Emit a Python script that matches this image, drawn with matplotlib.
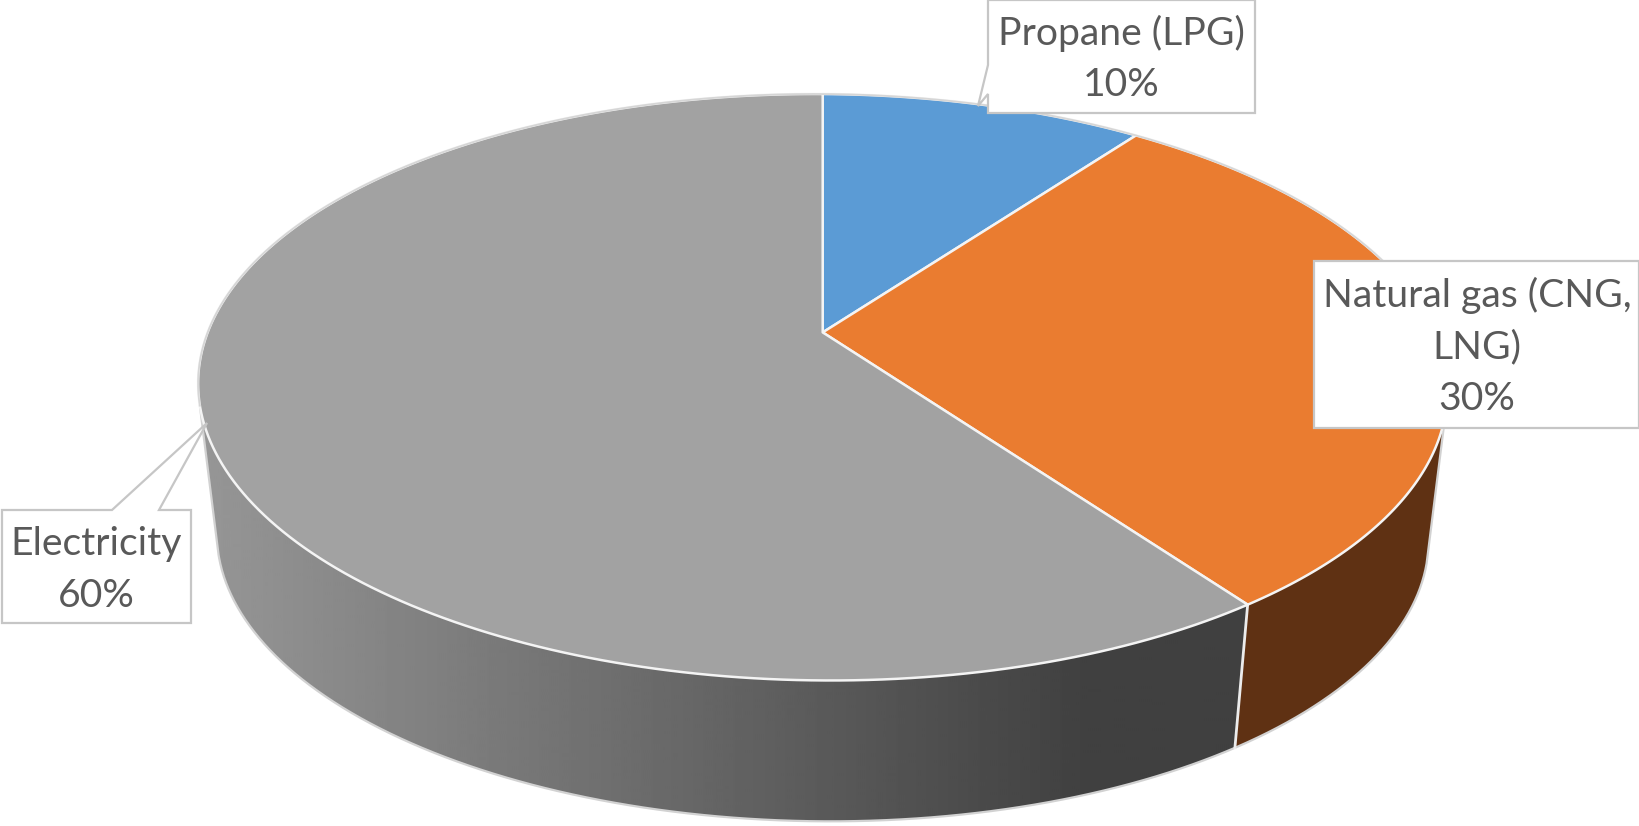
import numpy as np
import matplotlib
matplotlib.use("Agg")
import matplotlib.pyplot as plt
from matplotlib.patches import Polygon

categories = ["Propane (LPG)", "Natural gas (CNG,\nLNG)", "Electricity"]
shares = [10, 30, 60]
top_colors = ["#5B9BD5", "#EA7C30", "#A2A2A2"]
wall_orange = "#5F3113"

W, H = 1639, 826
fig = plt.figure(figsize=(W / 100, H / 100), dpi=100, facecolor="white")
ax = fig.add_axes([0, 0, 1, 1])

# perspective projection of the pie disc on the page
CX, CY, A, B, C, TILT = 822.7, 332.4, 613.6, 220.8, -0.187, 0.006
VPY, DEPTH = 5376.0, 0.97
# angles at which the rim turns from the visible wall to the hidden back
SIL_R, SIL_L = np.deg2rad(105), np.deg2rad(255)


def top(theta):
    u, v = np.sin(theta), -np.cos(theta)
    d = 1 + C * v
    x = CX + A * u / d
    return x, (CY + B * v) / d + TILT * (x - CX)


def bottom(theta):
    x, y = top(theta)
    return CX + (x - CX) * DEPTH, VPY - (VPY - y) * DEPTH


edges = np.cumsum([0] + shares) / sum(shares) * 2 * np.pi


def wall(a, b):
    t = np.linspace(a, b, 300)
    xt, yt = top(t)
    xb, yb = bottom(t)
    return np.column_stack([np.r_[xt, xb[::-1]], np.r_[yt, yb[::-1]]])


# side walls
ax.add_patch(Polygon(wall(SIL_R, edges[2]), closed=True, fc=wall_orange, ec="none", zorder=1))
poly = Polygon(wall(edges[2], SIL_L), closed=True, fc="none", ec="none", zorder=1)
ax.add_patch(poly)
g = np.clip((np.linspace(0, W, 820) - 205) / (1090 - 205), 0, 1)
im = ax.imshow((0x96 + (0x40 - 0x96) * g)[None, :], extent=[0, W, H, 0], cmap="gray",
               vmin=0, vmax=255, aspect="auto", zorder=1)
im.set_clip_path(poly)
ax.set_xlim(0, W)
ax.set_ylim(H, 0)
ax.axis("off")

# silhouette of the wall
t = np.linspace(SIL_R, SIL_L, 500)
xb, yb = bottom(t)
xa, ya = top(SIL_R)
xz, yz = top(SIL_L)
ax.plot(np.r_[xa, xb, xz], np.r_[ya, yb, yz], color="#d2d2d2", lw=1.6, zorder=2)

# divider on the wall
xa, ya = top(edges[2])
xc, yc = bottom(edges[2])
ax.plot([xa, xc], [ya, yc], color="#ececec", lw=2, zorder=3)

# top wedges
for i in range(3):
    t = np.linspace(edges[i], edges[i + 1], 200)
    x, y = top(t)
    pts = np.column_stack([np.r_[CX, x], np.r_[CY, y]])
    ax.add_patch(Polygon(pts, closed=True, fc=top_colors[i], ec="#f4f4f4", lw=1.8, zorder=4,
                         joinstyle="round"))
# grey outline on the far side of the disc
t = np.linspace(SIL_L, 2 * np.pi + SIL_R, 720)
x, y = top(t)
ax.plot(x, y, color="#d6d6d6", lw=1.3, zorder=5)


def callout(path, text, cx, cy):
    ax.add_patch(Polygon(path, closed=True, fc="white", ec="#c6c6c6", lw=1.6, zorder=6,
                         joinstyle="miter"))
    ax.text(cx, cy, text, ha="center", va="center", fontsize=28.2, family="Lato",
            color="#595959", linespacing=1.52, zorder=7)


labels = [f"{c}\n{s}%" for c, s in zip(categories, shares)]
callout([(988, 0), (1255, 0), (1255, 113), (988, 113), (988, 94), (978, 106), (988, 65)],
        labels[0], 1121, 59)
callout([(1314, 261), (1639, 261), (1639, 428), (1314, 428)], labels[1], 1477, 347)
callout([(2, 510), (112, 510), (207, 423), (159, 510), (191, 510), (191, 623), (2, 623)],
        labels[2], 96, 570)

fig.savefig("out.png", dpi=100, facecolor="white")
